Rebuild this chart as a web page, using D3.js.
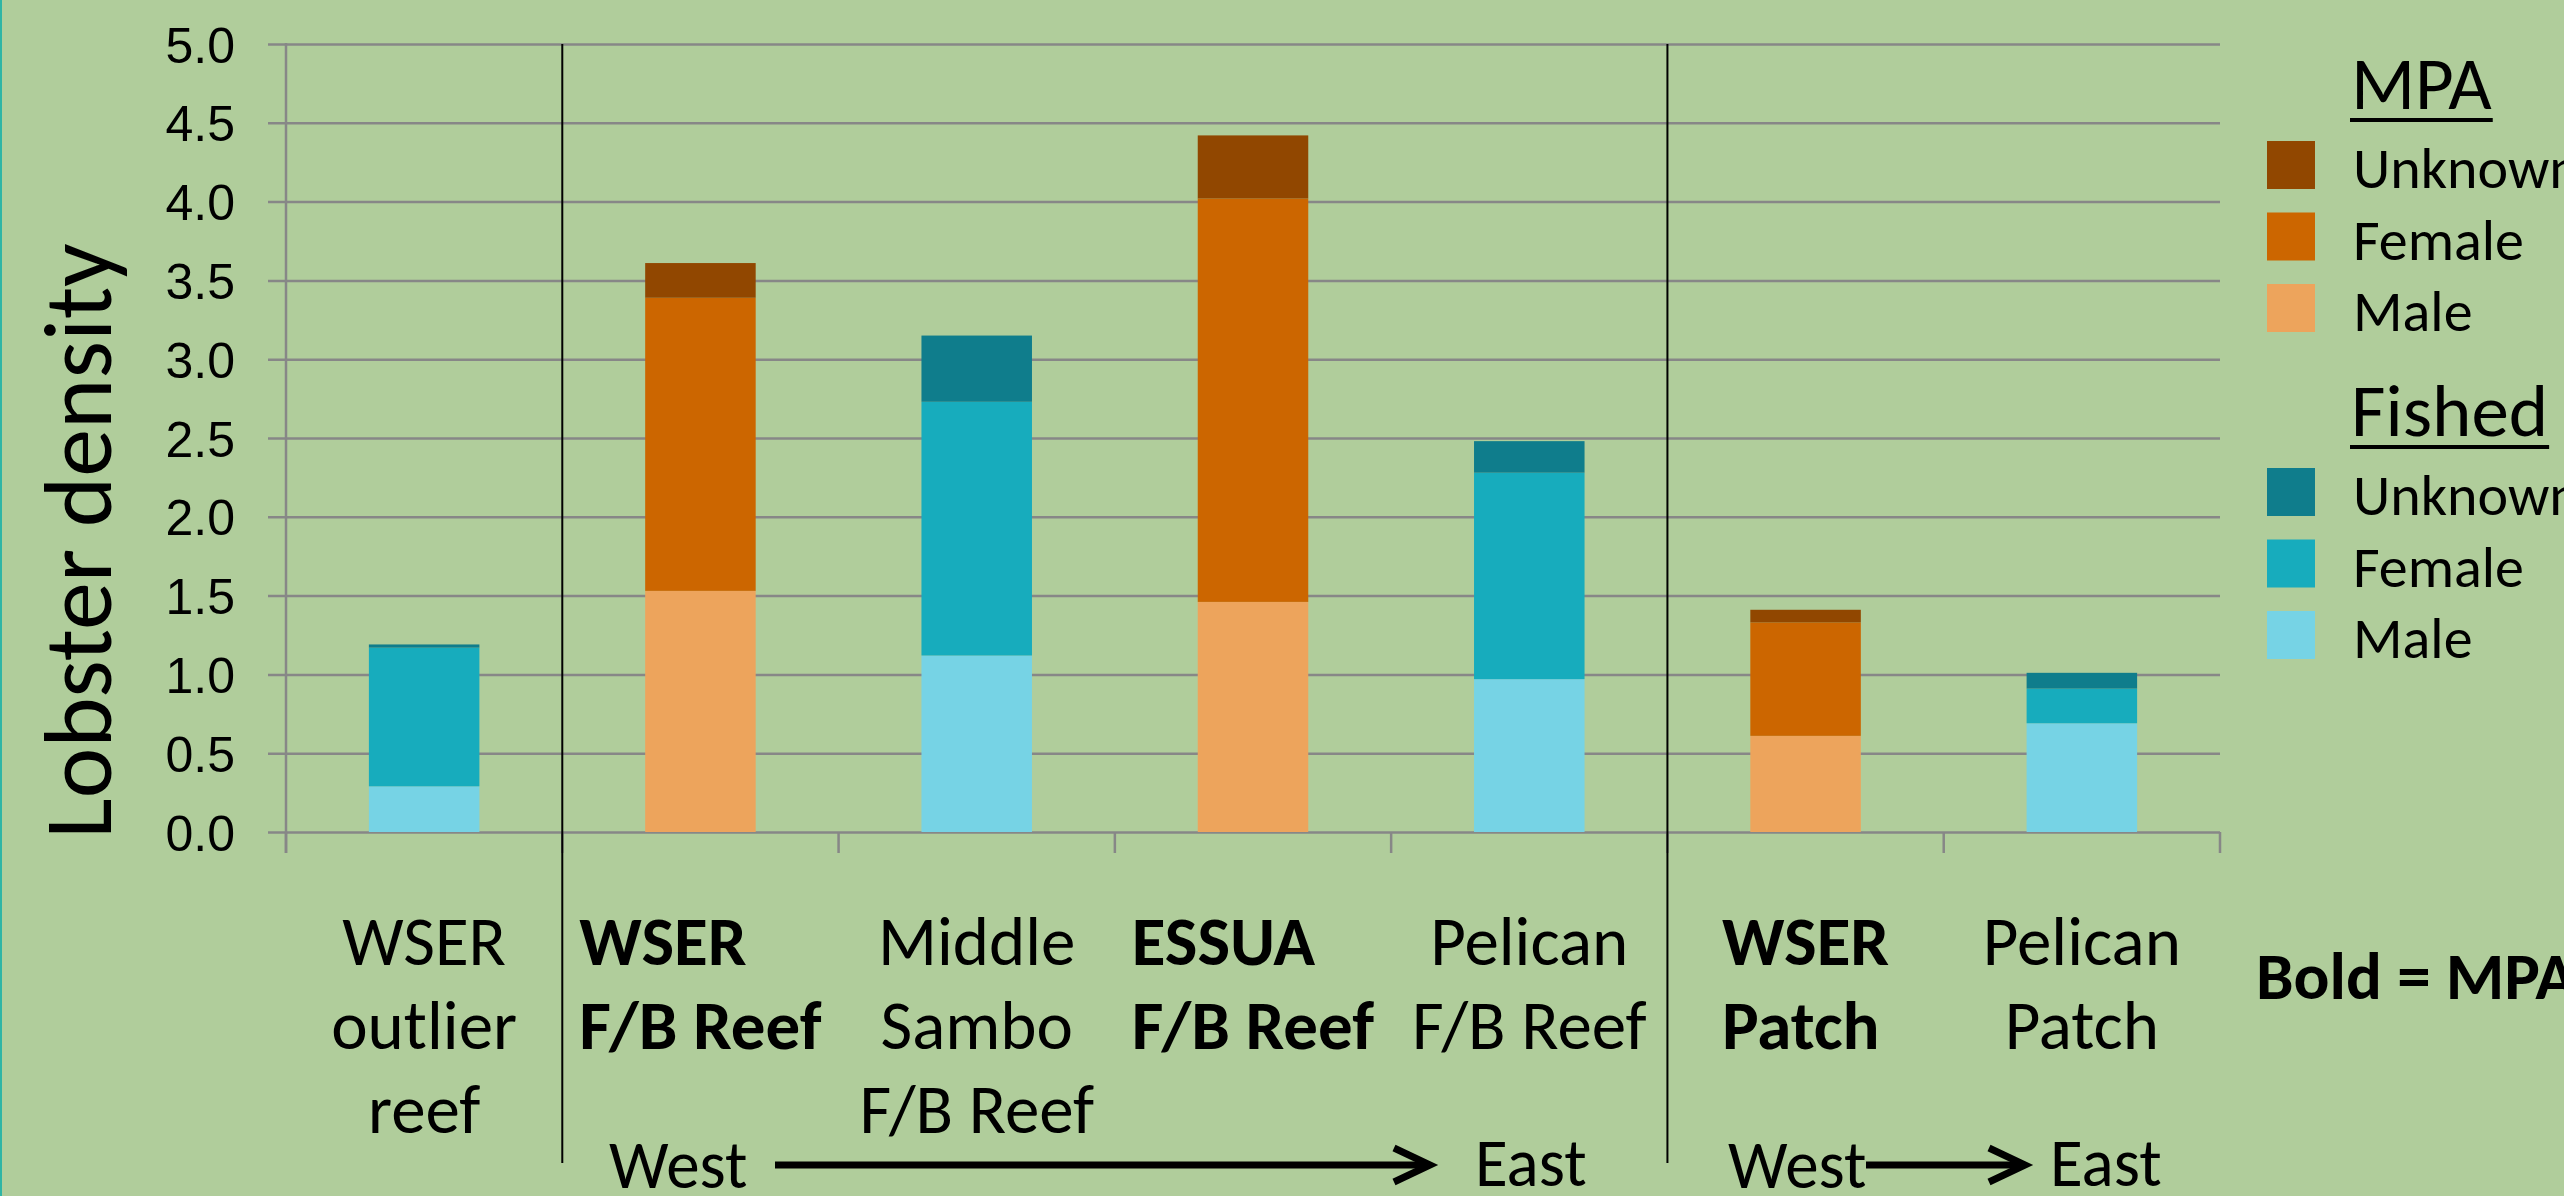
<!DOCTYPE html>
<html>
<head>
<meta charset="utf-8">
<script src="https://cdn.jsdelivr.net/npm/d3@7"></script>
<style>
  html, body { margin: 0; padding: 0; background: #b0cd9b; overflow: hidden; }
  svg { display: block; font-family: Carlito, Lato, "Open Sans", sans-serif; }
</style>
</head>
<body>
<svg id="chart" width="2564" height="1196"></svg>
<script>
// データ
const categories = ['WSER outlier reef', 'WSER F/B Reef', 'Middle Sambo F/B Reef', 'ESSUA F/B Reef',
  'Pelican F/B Reef', 'WSER Patch', 'Pelican Patch'];
const labelLines = [['WSER', 'outlier', 'reef'], ['WSER', 'F/B Reef'], ['Middle', 'Sambo', 'F/B Reef'],
  ['ESSUA', 'F/B Reef'], ['Pelican', 'F/B Reef'], ['WSER', 'Patch'], ['Pelican', 'Patch']];
const isMPA = [false, true, false, true, false, true, false];
const maleValues = [0.29, 1.53, 1.12, 1.46, 0.97, 0.61, 0.69];
const femaleValues = [0.88, 1.86, 1.61, 2.56, 1.31, 0.72, 0.22];
const unknownValues = [0.02, 0.22, 0.42, 0.40, 0.20, 0.08, 0.10];
const yTickValues = [0, 0.5, 1, 1.5, 2, 2.5, 3, 3.5, 4, 4.5, 5];
const sexKeys = ['male', 'female', 'unknown'];
const legendTitles = ['MPA', 'Fished'];
const legendItems = ['Unknown', 'Female', 'Male'];
const separatorsAfter = ['WSER outlier reef', 'Pelican F/B Reef'];

const colors = {
  mpa: { unknown: '#914700', female: '#cc6600', male: '#eda45c' },
  fished: { unknown: '#0f7d8c', female: '#17acbd', male: '#76d3e5' }
};

const svg = d3.select('#chart');
const plot = { left: 286, right: 2220, top: 44, bottom: 832 };

const x = d3.scaleBand()
  .domain(categories)
  .range([plot.left, plot.right])
  .paddingInner(0.6)
  .paddingOuter(0.3);

const y = d3.scaleLinear()
  .domain([0, 5])
  .range([plot.bottom, plot.top]);

const rows = categories.map((c, i) => ({
  category: c, mpa: isMPA[i],
  male: maleValues[i], female: femaleValues[i], unknown: unknownValues[i]
}));

// 左端の細い線
svg.append('rect').attr('x', 0).attr('y', 0).attr('width', 2).attr('height', 1196).attr('fill', '#2fb5a5');

// グリッド線と目盛
const yAxis = d3.axisLeft(y)
  .tickValues(yTickValues)
  .tickFormat(d3.format('.1f'))
  .tickSize(-(plot.right - plot.left))
  .tickPadding(0);

const gy = svg.append('g').attr('transform', `translate(${plot.left},0)`).call(yAxis);
gy.select('.domain').remove();
gy.selectAll('.tick line')
  .attr('x1', -18)
  .attr('stroke', '#878787')
  .attr('stroke-width', 2.5);
gy.selectAll('.tick text')
  .attr('x', -51)
  .attr('dy', '0.36em')
  .attr('font-size', 50)
  .attr('fill', '#000');

// y軸の線
svg.append('line')
  .attr('x1', plot.left).attr('x2', plot.left)
  .attr('y1', plot.top - 1).attr('y2', plot.bottom + 21)
  .attr('stroke', '#878787').attr('stroke-width', 2.5);

// カテゴリ境界の目盛
const step = x.step();
const boundaries = d3.range(categories.length + 1).map(i => plot.left + i * step);
svg.append('g').selectAll('line')
  .data(boundaries)
  .join('line')
  .attr('x1', d => d).attr('x2', d => d)
  .attr('y1', plot.bottom).attr('y2', plot.bottom + 21)
  .attr('stroke', '#878787').attr('stroke-width', 2.5);

// 積み上げ棒
const stack = d3.stack().keys(sexKeys);
const series = stack(rows);
svg.append('g').selectAll('g')
  .data(series)
  .join('g')
  .selectAll('rect')
  .data(s => s.map(d => ({ key: s.key, d })))
  .join('rect')
  .attr('x', v => x(v.d.data.category))
  .attr('width', x.bandwidth())
  .attr('y', v => y(v.d[1]))
  .attr('height', v => y(v.d[0]) - y(v.d[1]))
  .attr('fill', v => colors[v.d.data.mpa ? 'mpa' : 'fished'][v.key]);

// 区切りの縦線
svg.append('g').selectAll('line')
  .data(separatorsAfter)
  .join('line')
  .attr('x1', d => x(d) + x.bandwidth() + step * 0.3)
  .attr('x2', d => x(d) + x.bandwidth() + step * 0.3)
  .attr('y1', plot.top).attr('y2', 1163)
  .attr('stroke', '#000').attr('stroke-width', 2);

// カテゴリラベル
const labelBaselines = [965, 1049, 1133];
const labels = svg.append('g').attr('font-size', 69).attr('fill', '#000');
categories.forEach((c, i) => {
  const cx = x(c) + x.bandwidth() / 2;
  const g = labels.append('g').attr('font-weight', isMPA[i] ? 'bold' : 'normal');
  const texts = g.selectAll('text')
    .data(labelLines[i])
    .join('text')
    .attr('y', (d, j) => labelBaselines[j])
    .text(d => d);
  if (isMPA[i]) {
    // 太字ラベルは左揃え
    const maxW = d3.max(texts.nodes(), n => n.getComputedTextLength());
    texts.attr('x', cx - maxW / 2).attr('text-anchor', 'start');
  } else {
    texts.attr('x', cx).attr('text-anchor', 'middle');
  }
});

// y軸タイトル
svg.append('text')
  .attr('transform', 'translate(111,541) rotate(-90)')
  .attr('text-anchor', 'middle')
  .attr('font-size', 96)
  .text('Lobster density');

// 凡例
const legend = svg.append('g');
legendTitles.forEach((title, gi) => {
  const oy = gi * 327;
  const key = gi === 0 ? 'mpa' : 'fished';
  const t = legend.append('text')
    .attr('x', 2351).attr('y', 109 + oy)
    .attr('font-size', 75)
    .text(title);
  const w = t.node().getComputedTextLength();
  legend.append('rect')
    .attr('x', 2350).attr('y', 118 + oy)
    .attr('width', w + 2).attr('height', 4)
    .attr('fill', '#000');
  legendItems.forEach((item, i) => {
    legend.append('rect')
      .attr('x', 2267).attr('y', 141 + oy + i * 71.5)
      .attr('width', 48).attr('height', 48)
      .attr('fill', colors[key][item.toLowerCase()]);
    legend.append('text')
      .attr('x', 2353).attr('y', 188 + oy + i * 71.5)
      .attr('font-size', 58)
      .text(item);
  });
});

svg.append('text')
  .attr('x', 2256).attr('y', 999)
  .attr('font-size', 67).attr('font-weight', 'bold')
  .text('Bold = MPA');

// 西→東の矢印
const arrows = [
  { west: 609, x1: 775, x2: 1430, east: 1475 },
  { west: 1728, x1: 1866, x2: 2025, east: 2050 }
];
const ay = 1165;
const ag = svg.append('g');
arrows.forEach(a => {
  ag.append('text').attr('x', a.west).attr('y', 1188).attr('font-size', 67).text('West');
  ag.append('text').attr('x', a.east).attr('y', 1186).attr('font-size', 67).text('East');
  ag.append('line')
    .attr('x1', a.x1).attr('x2', a.x2 - 3)
    .attr('y1', ay).attr('y2', ay)
    .attr('stroke', '#000').attr('stroke-width', 7);
  ag.append('path')
    .attr('d', `M${a.x2 - 36},${ay - 17}L${a.x2},${ay}L${a.x2 - 36},${ay + 17}`)
    .attr('fill', 'none').attr('stroke', '#000').attr('stroke-width', 7)
    .attr('stroke-linejoin', 'miter');
});
</script>
</body>
</html>
